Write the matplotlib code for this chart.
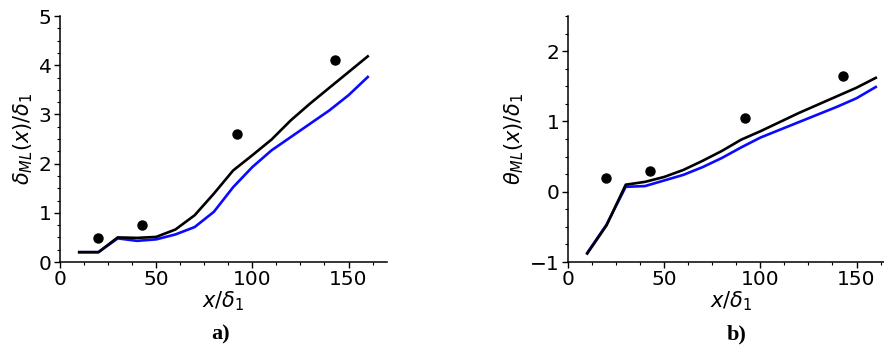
import numpy as np
import matplotlib.pyplot as plt
from matplotlib.ticker import AutoMinorLocator

# x positions of simulation output
x_sim = [10, 20, 30, 40, 50, 60, 70, 80, 90, 100, 110, 120, 130, 140, 150, 160]

# panel a) delta_ML / delta_1
delta_black = [0.20, 0.20, 0.50, 0.49, 0.51, 0.66, 0.95, 1.39, 1.86, 2.17, 2.49, 2.88, 3.22, 3.54, 3.86, 4.18]
delta_blue = [0.20, 0.20, 0.48, 0.43, 0.46, 0.56, 0.71, 1.02, 1.52, 1.93, 2.27, 2.54, 2.81, 3.08, 3.39, 3.76]

# panel b) theta_ML / delta_1
theta_black = [-0.88, -0.48, 0.10, 0.14, 0.21, 0.31, 0.44, 0.58, 0.74, 0.86, 0.99, 1.12, 1.24, 1.36, 1.48, 1.62]
theta_blue = [-0.87, -0.47, 0.07, 0.08, 0.16, 0.24, 0.35, 0.48, 0.63, 0.77, 0.88, 0.99, 1.10, 1.21, 1.33, 1.49]

# experimental points
x_exp = [19.6, 42.5, 92.1, 143.2]
delta_exp = [0.49, 0.76, 2.60, 4.10]
theta_exp = [0.19, 0.30, 1.05, 1.64]

W, H = 884, 356
fig = plt.figure(figsize=(W / 100, H / 100), dpi=100)

ax1 = fig.add_axes([60 / W, 94 / H, 327 / W, 246 / H])
ax2 = fig.add_axes([568 / W, 94 / H, 327 / W, 246 / H])

panels = [
    (ax1, delta_blue, delta_black, delta_exp, (0, 5), r'$\delta_{ML}(x)/\delta_1$', 'a)', 221),
    (ax2, theta_blue, theta_black, theta_exp, (-1, 2.5), r'$\theta_{ML}(x)/\delta_1$', 'b)', 737),
]

for ax, blue, black, exp, ylim, ylab, cap, capx in panels:
    ax.plot(x_sim, blue, color='#0a0aff', lw=1.9)
    ax.plot(x_sim, black, color='black', lw=1.9)
    ax.plot(x_exp, exp, 'o', color='black', ms=6.5)
    ax.set_xlim(0, 170)
    ax.set_ylim(*ylim)
    ax.set_xticks([0, 50, 100, 150])
    if ylim[0] < 0:
        ax.set_yticks([-1, 0, 1, 2])
    ax.xaxis.set_minor_locator(AutoMinorLocator(4))
    ax.yaxis.set_minor_locator(AutoMinorLocator(4))
    ax.spines['top'].set_visible(False)
    ax.spines['right'].set_visible(False)
    for s in ('left', 'bottom'):
        ax.spines[s].set_linewidth(1.1)
    ax.tick_params(labelsize=14.5, width=1, length=4, pad=2)
    ax.tick_params(which='minor', length=2.5, width=0.8)
    ax.set_xlabel(r'$x/\delta_1$', fontsize=15, labelpad=0)
    ax.set_ylabel(ylab, fontsize=15, labelpad=3)
    fig.text(capx / W, 1 - 334 / H, cap, ha='center', va='center',
             fontsize=16, fontweight='bold', family='Liberation Serif')

fig.savefig('out.png', dpi=100)
